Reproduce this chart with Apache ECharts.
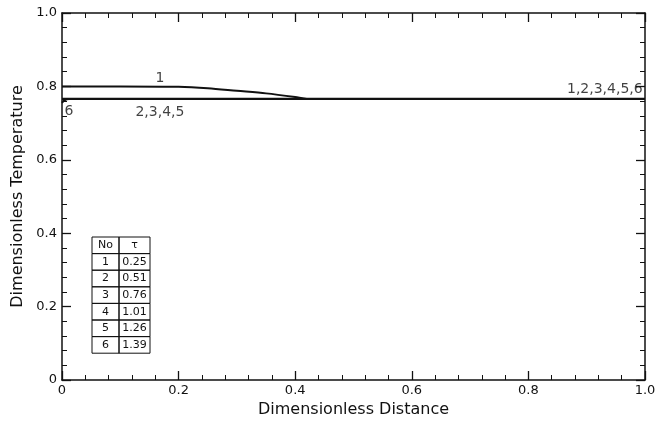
<!DOCTYPE html>
<html>
<head>
<meta charset="utf-8">
<script src="https://cdn.jsdelivr.net/npm/echarts@6/dist/echarts.min.js"></script>
<style>html,body{margin:0;padding:0;background:#fff}#c{width:660px;height:423px}</style>
</head>
<body>
<div id="c"></div>
<script>
// ---- data ----
const curve1X = [0, 0.1, 0.2, 0.25, 0.3, 0.35, 0.4, 0.42, 0.5, 0.7, 1.0];
const curve1Y = [0.800, 0.800, 0.799, 0.795, 0.788, 0.781, 0.771, 0.766, 0.766, 0.766, 0.766];
const curve2to5X = [0, 0.2, 0.4, 0.6, 0.8, 1.0];
const curve2to5Y = [0.766, 0.766, 0.766, 0.766, 0.766, 0.766];
const curve6X = [0, 0.004, 0.012, 0.2, 0.6, 1.0];
const curve6Y = [0.755, 0.762, 0.766, 0.766, 0.766, 0.766];
const xTicks = [0, 0.2, 0.4, 0.6, 0.8, 1.0];
const yTicks = [0, 0.2, 0.4, 0.6, 0.8, 1.0];
const tableNo = ['1', '2', '3', '4', '5', '6'];
const tableTau = ['0.25', '0.51', '0.76', '1.01', '1.26', '1.39'];
const annotX = [0.168, 0.168, 0.012, 0.996];
const annotY = [0.822, 0.728, 0.733, 0.792];
const annotText = ['1', '2,3,4,5', '6', '1,2,3,4,5,6'];
const annotAlign = ['center', 'center', 'center', 'right'];

const FONT = 'DejaVu Sans';
const pair = (xs, ys) => xs.map((x, i) => [x, ys[i]]);
const fmt = v => (v === 0 ? '0' : v.toFixed(1));

const axisCommon = {
  min: 0, max: 1, interval: 0.2,
  axisLine: { show: true, onZero: false, lineStyle: { color: '#111', width: 1.5 } },
  axisTick: { show: true, inside: true, length: 9, lineStyle: { color: '#111', width: 1.3 } },
  minorTick: { show: true, splitNumber: 5, length: 5, lineStyle: { color: '#111', width: 1 } },
  splitLine: { show: false },
  minorSplitLine: { show: false }
};

// table graphic
const tX = 92, tY = 237, c1 = 27, c2 = 31, rh = 16.6;
const tableEls = [];
const rows = [['No', 'τ']].concat(tableNo.map((n, i) => [n, tableTau[i]]));
rows.forEach((r, i) => {
  const y = tY + i * rh;
  tableEls.push({ type: 'rect', shape: { x: tX, y: y, width: c1, height: rh }, style: { fill: 'none', stroke: '#111', lineWidth: 1 } });
  tableEls.push({ type: 'rect', shape: { x: tX + c1, y: y, width: c2, height: rh }, style: { fill: 'none', stroke: '#111', lineWidth: 1 } });
  tableEls.push({ type: 'text', x: tX + c1 / 2, y: y + rh / 2, style: { text: r[0], font: '11px ' + FONT, fill: '#111', align: 'center', verticalAlign: 'middle' } });
  tableEls.push({ type: 'text', x: tX + c1 + c2 / 2, y: y + rh / 2, style: { text: r[1], font: '11px ' + FONT, fill: '#111', align: 'center', verticalAlign: 'middle' } });
});

const chart = echarts.init(document.getElementById('c'), null, { renderer: 'canvas' });
const lineStyleSeries = (name, data, w) => ({
  name, type: 'line', data, showSymbol: false, symbol: 'none', smooth: 0.3,
  xAxisIndex: 0, yAxisIndex: 0,
  lineStyle: { color: '#111', width: w }, z: 3
});

chart.setOption({
  animation: false,
  backgroundColor: '#fff',
  textStyle: { fontFamily: FONT },
  grid: { left: 62, right: 15, top: 13, bottom: 43 },
  xAxis: [
    Object.assign({}, axisCommon, {
      type: 'value', position: 'bottom',
      name: 'Dimensionless Distance', nameLocation: 'middle', nameGap: 21,
      nameTextStyle: { fontSize: 16, color: '#111', fontFamily: FONT },
      axisLabel: { color: '#111', fontSize: 13, margin: 4, formatter: fmt, fontFamily: FONT }
    }),
    Object.assign({}, axisCommon, { type: 'value', position: 'top', axisLabel: { show: false } })
  ],
  yAxis: [
    Object.assign({}, axisCommon, {
      type: 'value', position: 'left',
      name: 'Dimensionless Temperature', nameLocation: 'middle', nameGap: 33,
      nameTextStyle: { fontSize: 16, color: '#111', fontFamily: FONT },
      axisLabel: { color: '#111', fontSize: 13, margin: 5, formatter: fmt, fontFamily: FONT }
    }),
    Object.assign({}, axisCommon, { type: 'value', position: 'right', axisLabel: { show: false } })
  ],
  series: [
    lineStyleSeries('1', pair(curve1X, curve1Y), 2),
    lineStyleSeries('2,3,4,5', pair(curve2to5X, curve2to5Y), 2.2),
    lineStyleSeries('6', pair(curve6X, curve6Y), 2),
    {
      type: 'scatter', symbolSize: 0, silent: true,
      data: annotX.map((x, i) => ({
        value: [x, annotY[i]],
        label: { show: true, position: 'inside', formatter: annotText[i], align: annotAlign[i],
                 color: '#111', fontSize: 14, fontFamily: FONT }
      })),
      z: 4
    }
  ],
  graphic: tableEls
});
</script>
</body>
</html>
